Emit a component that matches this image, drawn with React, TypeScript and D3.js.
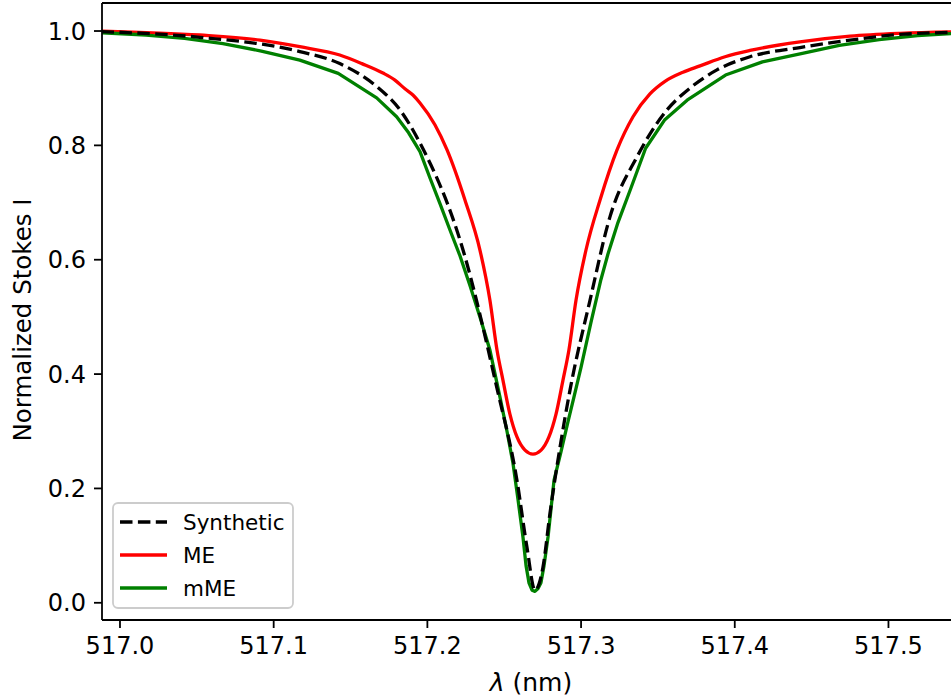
import React from "react";
import * as d3 from "d3";

// ---------- data ----------
const synthWl = [516.988, 517.052, 517.117, 517.143, 517.167, 517.1822, 517.1952, 517.2232, 517.2453, 517.2583, 517.2648, 517.27, 517.2752, 517.2798, 517.2863, 517.2928, 517.3058, 517.3188, 517.3364, 517.3559, 517.3708, 517.3884, 517.4099, 517.4424, 517.475, 517.5075, 517.55];
const synthI = [0.999, 0.989, 0.964, 0.943, 0.903, 0.862, 0.804, 0.617, 0.375, 0.214, 0.097, 0.022, 0.062, 0.157, 0.272, 0.372, 0.529, 0.675, 0.78, 0.862, 0.9, 0.932, 0.955, 0.971, 0.984, 0.994, 0.998];

const meWl = [516.988, 517.052, 517.0911, 517.117, 517.143, 517.1574, 517.1711, 517.1789, 517.1854, 517.1906, 517.1952, 517.2049, 517.2128, 517.2245, 517.2342, 517.2407, 517.2453, 517.2492, 517.2537, 517.2583, 517.2635, 517.2687, 517.274, 517.2791, 517.2837, 517.2882, 517.2921, 517.2967, 517.3032, 517.3123, 517.3234, 517.3338, 517.3448, 517.3546, 517.3663, 517.3774, 517.3937, 517.4099, 517.4424, 517.475, 517.5075, 517.55];
const meI = [1.0, 0.993, 0.984, 0.9725, 0.958, 0.943, 0.9265, 0.914, 0.899, 0.888, 0.874, 0.836, 0.792, 0.704, 0.617, 0.529, 0.442, 0.389, 0.33, 0.29, 0.267, 0.26, 0.267, 0.29, 0.33, 0.389, 0.442, 0.529, 0.617, 0.704, 0.792, 0.85, 0.89, 0.912, 0.928, 0.939, 0.955, 0.966, 0.981, 0.991, 0.996, 0.999];

const mmeWl = [516.988, 517.017, 517.042, 517.067, 517.092, 517.117, 517.142, 517.167, 517.18, 517.1878, 517.1952, 517.2017, 517.2082, 517.2147, 517.2212, 517.2277, 517.2342, 517.2407, 517.2472, 517.2518, 517.2557, 517.259, 517.2622, 517.2642, 517.2661, 517.2681, 517.27, 517.272, 517.2739, 517.2759, 517.2785, 517.2824, 517.287, 517.2915, 517.2954, 517.3, 517.3064, 517.3129, 517.3175, 517.324, 517.3324, 517.342, 517.3545, 517.369, 517.394, 517.418, 517.444, 517.468, 517.494, 517.519, 517.55];
const mmeI = [0.997, 0.993, 0.987, 0.978, 0.965, 0.949, 0.926, 0.883, 0.85, 0.822, 0.789, 0.743, 0.698, 0.652, 0.607, 0.555, 0.5, 0.442, 0.36, 0.3, 0.244, 0.18, 0.115, 0.065, 0.035, 0.022, 0.02, 0.025, 0.035, 0.065, 0.115, 0.214, 0.265, 0.317, 0.36, 0.412, 0.49, 0.565, 0.61, 0.665, 0.725, 0.795, 0.845, 0.879, 0.923, 0.946, 0.961, 0.975, 0.985, 0.992, 0.997];

const xTicks = [517.0, 517.1, 517.2, 517.3, 517.4, 517.5];
const yTicks = [0.0, 0.2, 0.4, 0.6, 0.8, 1.0];
const legendLabels = ["Synthetic", "ME", "mME"];

// ---------- layout ----------
const W = 951;
const H = 698;
const left = 102;
const right = 965;
const top = 3;
const bottom = 620;
const FONT = "'DejaVu Sans', sans-serif";
const FS = 24;

export default function App() {
  const x = d3.scaleLinear().domain([516.9883, 517.5498]).range([left, right]);
  const y = d3.scaleLinear().domain([-0.0301, 1.049]).range([bottom, top]);

  const toPts = (wl: number[], v: number[]) => wl.map((w, i) => [w, v[i]] as [number, number]);
  const smooth = d3.line<[number, number]>().x(d => x(d[0])).y(d => y(d[1])).curve(d3.curveMonotoneX);
  const linear = d3.line<[number, number]>().x(d => x(d[0])).y(d => y(d[1])).curve(d3.curveLinear);

  const LW = 3.3;
  const series = [
    { label: legendLabels[0], color: "#000000", dash: "12.5,5.4" },
    { label: legendLabels[1], color: "#ff0000", dash: undefined },
    { label: legendLabels[2], color: "#008000", dash: undefined },
  ];

  const lg = { x: 113, y: 503, w: 180, h: 105 };
  const rowY = [522, 555, 588];

  return (
    <svg width={W} height={H} style={{ position: "absolute", left: 0, top: 0, display: "block", background: "#fff" }} fontFamily={FONT}>
      <defs>
        <clipPath id="plot">
          <rect x={left} y={top} width={right - left} height={bottom - top} />
        </clipPath>
      </defs>
      <rect x={0} y={0} width={W} height={H} fill="#fff" />
      <g clipPath="url(#plot)" fill="none" strokeLinejoin="round" strokeLinecap="butt">
        <path d={smooth(toPts(meWl, meI)) || ""} stroke="#ff0000" strokeWidth={LW} />
        <path d={linear(toPts(mmeWl, mmeI)) || ""} stroke="#008000" strokeWidth={LW} />
        <path d={smooth(toPts(synthWl, synthI)) || ""} stroke="#000000" strokeWidth={LW} strokeDasharray="12.5,5.4" />
      </g>
      {/* spines */}
      <g stroke="#000" strokeWidth={1.8} fill="none">
        <line x1={left} y1={top} x2={right} y2={top} />
        <line x1={left} y1={bottom} x2={right} y2={bottom} />
        <line x1={left} y1={top} x2={left} y2={bottom} />
      </g>
      {/* x ticks */}
      {xTicks.map(t => (
        <g key={"x" + t}>
          <line x1={x(t)} x2={x(t)} y1={bottom} y2={bottom + 8} stroke="#000" strokeWidth={1.8} />
          <text x={x(t)} y={bottom + 16} dy="0.76em" textAnchor="middle" fontSize={FS} fill="#000">
            {t.toFixed(1)}
          </text>
        </g>
      ))}
      {/* y ticks */}
      {yTicks.map(t => (
        <g key={"y" + t}>
          <line x1={left - 8} x2={left} y1={y(t)} y2={y(t)} stroke="#000" strokeWidth={1.8} />
          <text x={left - 16} y={y(t)} dy="0.36em" textAnchor="end" fontSize={FS} fill="#000">
            {t.toFixed(1)}
          </text>
        </g>
      ))}
      {/* axis labels */}
      <text x={531} y={691} textAnchor="middle" fontSize={25} fill="#000">
        <tspan fontStyle="italic">λ</tspan> (nm)
      </text>
      <text transform={`translate(31,${320}) rotate(-90)`} textAnchor="middle" fontSize={24.5} fill="#000">
        Normalized Stokes I
      </text>
      {/* legend */}
      <rect x={lg.x} y={lg.y} width={lg.w} height={lg.h} rx={5} ry={5} fill="#fff" fillOpacity={0.8} stroke="#cccccc" strokeWidth={1.8} />
      {series.map((s, i) => (
        <g key={s.label}>
          <line x1={120} x2={167} y1={rowY[i]} y2={rowY[i]} stroke={s.color} strokeWidth={LW} strokeDasharray={s.dash} />
          <text x={183} y={rowY[i]} dy="0.36em" fontSize={21.5} fill="#000">
            {s.label}
          </text>
        </g>
      ))}
    </svg>
  );
}
